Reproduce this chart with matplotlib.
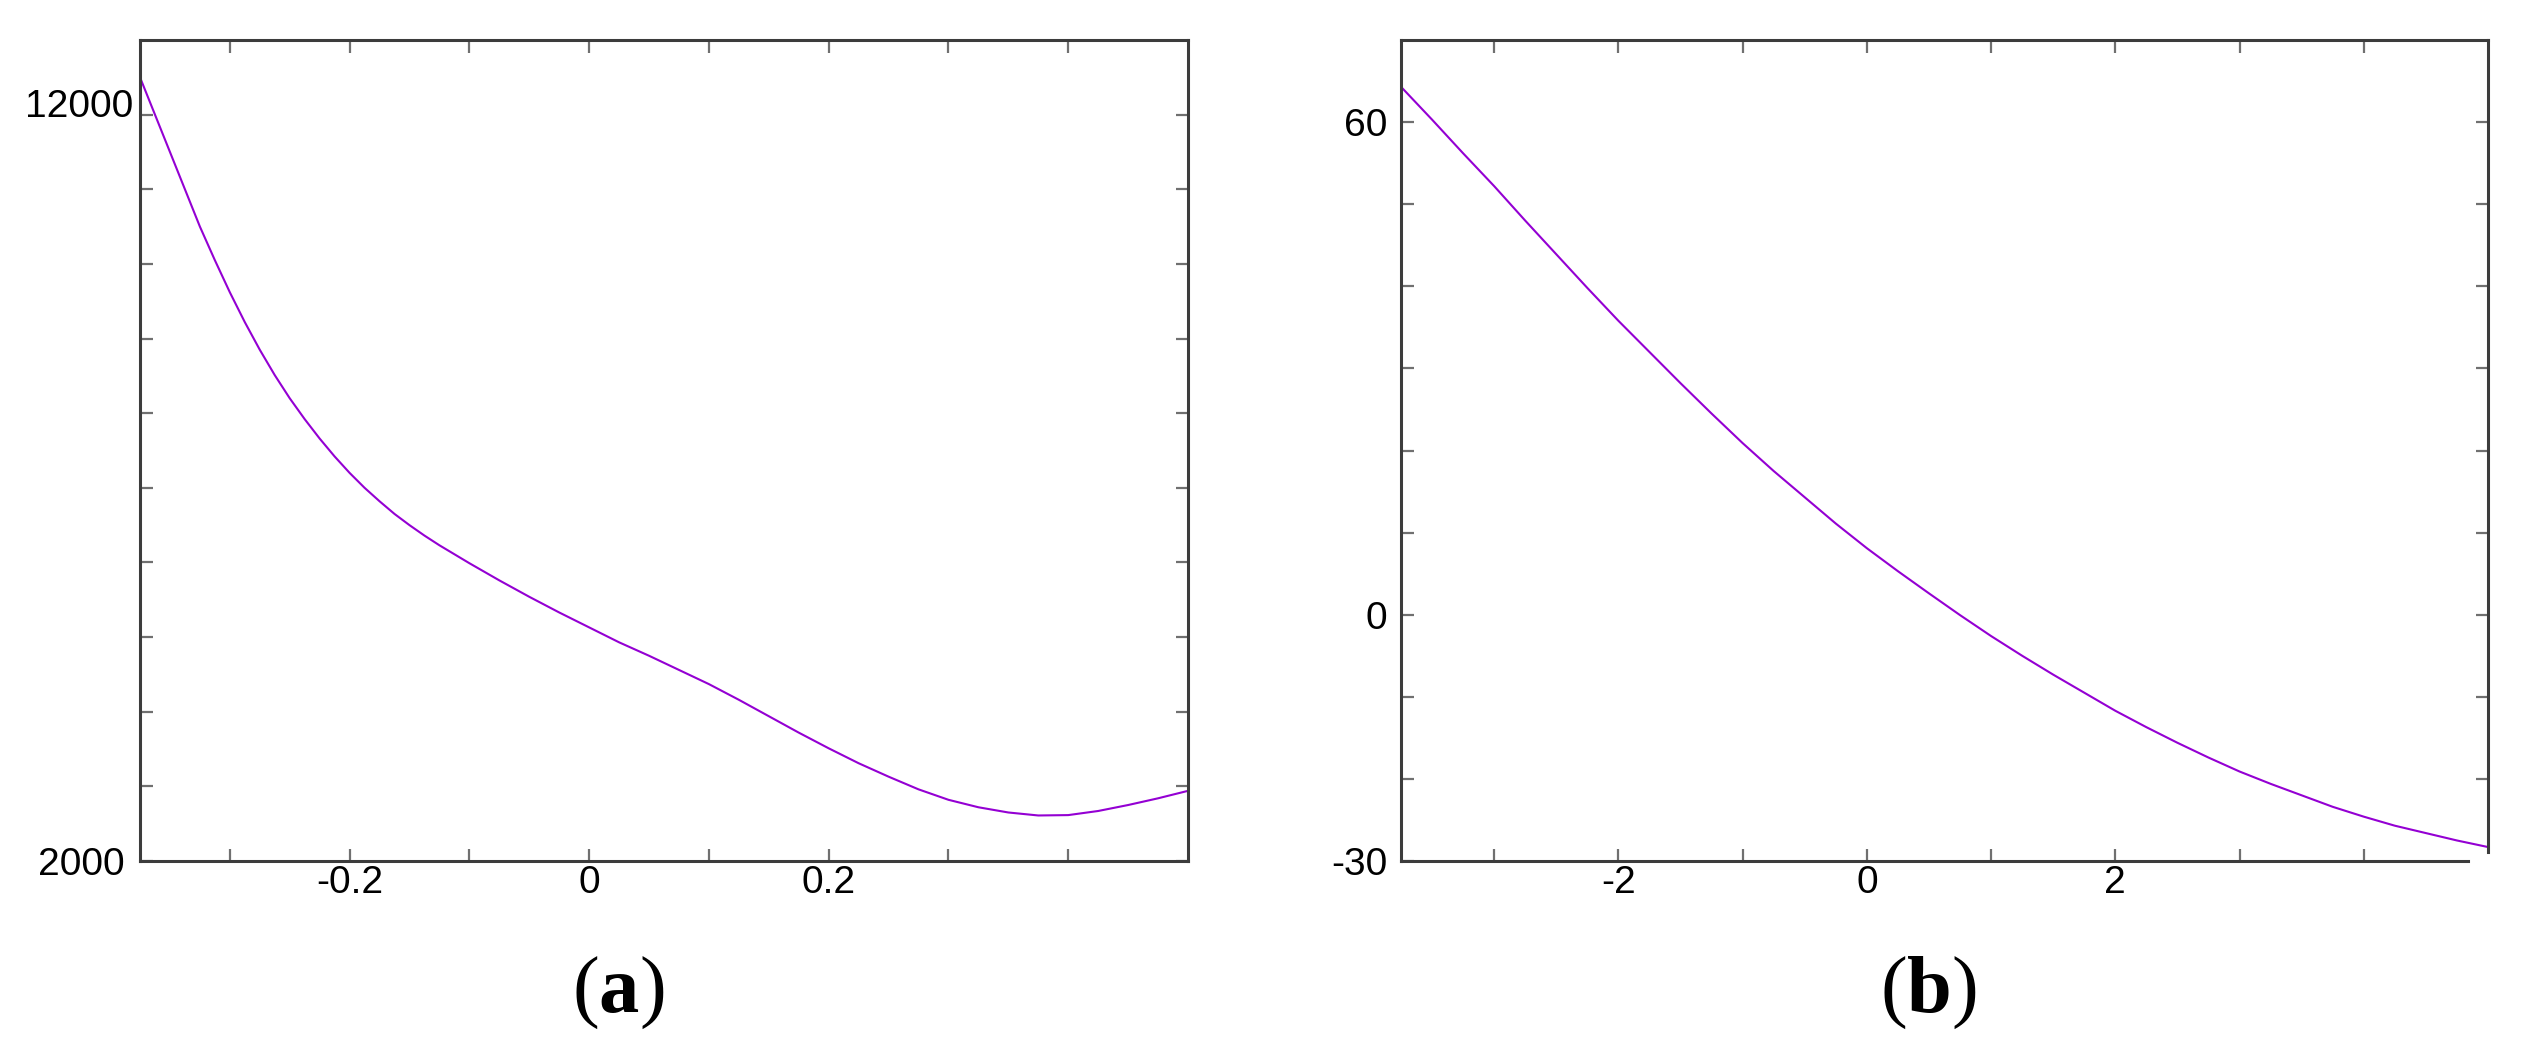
import matplotlib
matplotlib.use("Agg")
import matplotlib.pyplot as plt
from matplotlib.transforms import ScaledTranslation

plt.rcParams['font.family'] = ['Liberation Sans', 'DejaVu Sans']
plt.rcParams['mathtext.fontset'] = 'custom'
plt.rcParams['mathtext.bf'] = 'Liberation Serif:bold'
plt.rcParams['mathtext.rm'] = 'Liberation Serif'

# ---- panel (a) data ----
xa = [-0.375, -0.3625, -0.35, -0.3375, -0.325, -0.3125, -0.3, -0.2875, -0.275,
      -0.2625, -0.25, -0.2375, -0.225, -0.2125, -0.2, -0.1875, -0.175, -0.1625,
      -0.15, -0.1375, -0.125, -0.1125, -0.1, -0.075, -0.05, -0.025, 0.0,
      0.025, 0.05, 0.075, 0.1, 0.125, 0.15, 0.175, 0.2, 0.225, 0.25, 0.275,
      0.3, 0.325, 0.35, 0.375, 0.4, 0.425, 0.45, 0.475, 0.5]
ya = [12500, 12000, 11500, 11000, 10500, 10050, 9620, 9220, 8850,
      8510, 8200, 7920, 7660, 7420, 7200, 7000, 6820, 6650,
      6500, 6360, 6230, 6110, 5990, 5760, 5540, 5330, 5130,
      4930, 4750, 4560, 4370, 4160, 3940, 3720, 3510, 3310, 3130, 2960,
      2820, 2720, 2650, 2610, 2615, 2670, 2750, 2840, 2940]
xa_ticks = [-0.3, -0.2, -0.1, 0.0, 0.1, 0.2, 0.3, 0.4]
xa_labels = ['', '-0.2', '', '0', '', '0.2', '', '']
ya_ticks = [2000, 3000, 4000, 5000, 6000, 7000, 8000, 9000, 10000, 11000, 12000]
ya_labels = ['2000', '', '', '', '', '', '', '', '', '', '12000']

# ---- panel (b) data ----
xb = [-3.75, -3.5, -3.25, -3.0, -2.75, -2.5, -2.25, -2.0, -1.75, -1.5, -1.25,
      -1.0, -0.75, -0.5, -0.25, 0.0, 0.25, 0.5, 0.75, 1.0, 1.25, 1.5, 1.75,
      2.0, 2.25, 2.5, 2.75, 3.0, 3.25, 3.5, 3.75, 4.0, 4.25, 4.5, 4.75, 5.0]
yb = [64.3, 60.3, 56.2, 52.2, 48.0, 43.9, 39.8, 35.8, 32.0, 28.2, 24.5,
      20.9, 17.5, 14.3, 11.1, 8.1, 5.3, 2.6, -0.05, -2.6, -5.0, -7.3, -9.5,
      -11.7, -13.7, -15.6, -17.4, -19.1, -20.6, -22.0, -23.4, -24.6, -25.7, -26.6, -27.5, -28.3]
xb_ticks = [-3, -2, -1, 0, 1, 2, 3, 4]
xb_labels = ['', '-2', '', '0', '', '2', '', '']
yb_ticks = [-30, -20, -10, 0, 10, 20, 30, 40, 50, 60]
yb_labels = ['-30', '', '', '0', '', '', '', '', '', '60']

W, H = 2523, 1042
fig = plt.figure(figsize=(W / 100, H / 100), dpi=100)
ax1 = fig.add_axes([140 / W, (H - 861) / H, 1048 / W, 821 / H])
ax2 = fig.add_axes([1401 / W, (H - 861) / H, 1087 / W, 821 / H])

line_color = '#9400D3'
spine_color = '#3c3c3c'
tick_color = '#707070'

def style(ax, ypad):
    for s in ax.spines.values():
        s.set_color(spine_color)
        s.set_linewidth(2.2)
    ax.tick_params(axis='both', which='major', direction='in', length=9,
                   width=1.6, color=tick_color, labelsize=28,
                   top=True, right=True, labelcolor='black')
    ax.tick_params(axis='x', pad=3)
    ax.tick_params(axis='y', pad=ypad)

ax1.plot(xa, ya, color=line_color, lw=1.5)
ax1.set_xlim(-0.375, 0.5)
ax1.set_ylim(2000, 13000)
ax1.set_xticks(xa_ticks)
ax1.set_xticklabels(xa_labels)
ax1.set_yticks(ya_ticks)
ax1.set_yticklabels(ya_labels)
style(ax1, 5)

ax2.plot(xb, yb, color=line_color, lw=1.5)
ax2.set_xlim(-3.75, 5)
ax2.set_ylim(-30, 70)
ax2.set_xticks(xb_ticks)
ax2.set_xticklabels(xb_labels)
ax2.set_yticks(yb_ticks)
ax2.set_yticklabels(yb_labels)
style(ax2, 10)
# reference quirk: bottom-right corner of panel (b) is open
ax2.spines['bottom'].set_bounds(-3.75, 4.84)
ax2.spines['right'].set_bounds(-28.9, 70)
ax2.yaxis.get_major_ticks()[0].tick2line.set_visible(False)

# small label offsets seen in the reference
ylabs = ax1.get_yticklabels()
ylabs[0].set_transform(ylabs[0].get_transform() + ScaledTranslation(-0.08, 0, fig.dpi_scale_trans))
ylabs[-1].set_transform(ylabs[-1].get_transform() + ScaledTranslation(0, 0.12, fig.dpi_scale_trans))

fig.text(618 / W, (H - 1012) / H, r'($\mathbf{a}$)', ha='center', va='baseline',
         fontsize=58, family='Liberation Serif')
fig.text(1928 / W, (H - 1012) / H, r'($\mathbf{b}$)', ha='center', va='baseline',
         fontsize=58, family='Liberation Serif')

fig.savefig('out.png', dpi=100, facecolor='white')
